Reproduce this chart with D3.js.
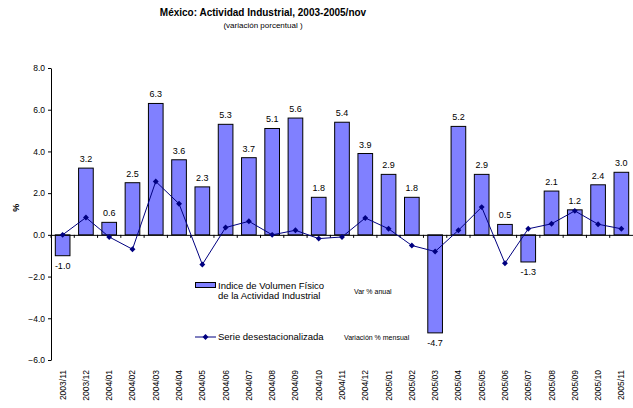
<!DOCTYPE html>
<html>
<head>
<meta charset="utf-8">
<script src="https://cdn.jsdelivr.net/npm/d3@7"></script>
<style>
  body { margin: 0; background: #fff; }
  svg text { font-family: "Liberation Sans", Arial, sans-serif; fill: #000; }
</style>
</head>
<body>
<svg id="chart" width="633" height="408"></svg>
<script>
// data
var months = ["2003/11", "2003/12", "2004/01", "2004/02", "2004/03", "2004/04", "2004/05", "2004/06",
    "2004/07", "2004/08", "2004/09", "2004/10", "2004/11", "2004/12", "2005/01", "2005/02",
    "2005/03", "2005/04", "2005/05", "2005/06", "2005/07", "2005/08", "2005/09", "2005/10", "2005/11"];
var anual = [-1.0, 3.2, 0.6, 2.5, 6.3, 3.6, 2.3, 5.3, 3.7, 5.1, 5.6, 1.8, 5.4, 3.9, 2.9, 1.8,
    -4.7, 5.2, 2.9, 0.5, -1.3, 2.1, 1.2, 2.4, 3.0];
var mensual = [0.0, 0.83, -0.1, -0.69, 2.56, 1.49, -1.42, 0.35, 0.65, 0.0, 0.22, -0.18, -0.1, 0.81,
    0.29, -0.51, -0.80, 0.22, 1.33, -1.36, 0.29, 0.53, 1.15, 0.51, 0.29];
var yTicks = [-6, -4, -2, 0, 2, 4, 6, 8];

var dims = { left: 51, right: 633, top: 68, bottom: 360 };

var svg = d3.select("#chart");

var x = d3.scaleBand()
    .domain(months)
    .range([dims.left, dims.right])
    .paddingInner(0.37)
    .paddingOuter(0.185);

var y = d3.scaleLinear()
    .domain([-6, 8])
    .range([dims.bottom, dims.top]);

// title
svg.append("text")
    .attr("x", 263).attr("y", 16)
    .attr("text-anchor", "middle")
    .style("font-size", "10px").style("font-weight", "bold")
    .text("México: Actividad Industrial, 2003-2005/nov");
svg.append("text")
    .attr("x", 263).attr("y", 28)
    .attr("text-anchor", "middle")
    .style("font-size", "8px")
    .text("(variación porcentual )");

// y axis
var yAxis = svg.append("g")
    .attr("transform", `translate(${dims.left},0)`)
    .call(d3.axisLeft(y).tickValues(yTicks).tickFormat(d3.format(".1f")).tickSize(3).tickSizeOuter(0));
yAxis.select(".domain").attr("stroke", "#000");
yAxis.selectAll("text").style("font-size", "8.5px").attr("x", -6);

svg.append("text")
    .attr("transform", `translate(19,${y(1.3)}) rotate(-90)`)
    .attr("text-anchor", "middle")
    .style("font-size", "9px").style("font-weight", "bold")
    .text("%");

// bars
svg.selectAll("rect.bar")
    .data(anual)
    .enter()
    .append("rect")
    .attr("class", "bar")
    .attr("x", (d, i) => x(months[i]))
    .attr("y", d => y(Math.max(0, d)))
    .attr("width", x.bandwidth())
    .attr("height", d => Math.abs(y(d) - y(0)))
    .attr("fill", "#8080ff")
    .attr("stroke", "#000")
    .attr("stroke-width", 1);

// bar labels
svg.selectAll("text.lbl")
    .data(anual)
    .enter()
    .append("text")
    .attr("class", "lbl")
    .attr("x", (d, i) => x(months[i]) + x.bandwidth() / 2)
    .attr("y", d => d >= 0 ? y(d) - 6 : y(d) + 13)
    .attr("text-anchor", "middle")
    .style("font-size", "9px")
    .text(d => d.toFixed(1));

// x axis at zero
var xAxis = svg.append("g")
    .attr("transform", `translate(0,${y(0)})`)
    .call(d3.axisBottom(x).tickSize(3).tickSizeOuter(0));
xAxis.select(".domain").attr("stroke", "#000");
xAxis.selectAll(".tick line")
    .attr("transform", `translate(${-x.step() / 2},0)`);
xAxis.selectAll(".tick text")
    .attr("y", 0).attr("dy", "0.35em")
    .attr("transform", `translate(0,${370 - y(0)}) rotate(-90)`)
    .attr("text-anchor", "end")
    .style("font-size", "8.5px");

// monthly line
var line = d3.line()
    .x((d, i) => x(months[i]) + x.bandwidth() / 2)
    .y(d => y(d));
svg.append("path")
    .datum(mensual)
    .attr("d", line)
    .attr("fill", "none")
    .attr("stroke", "#000080")
    .attr("stroke-width", 1);
svg.selectAll("path.mk")
    .data(mensual)
    .enter()
    .append("path")
    .attr("class", "mk")
    .attr("d", d3.symbol(d3.symbolDiamond2, 22))
    .attr("transform", (d, i) => `translate(${x(months[i]) + x.bandwidth() / 2},${y(d)})`)
    .attr("fill", "#000080");

// legend
var lg = svg.append("g");
lg.append("rect")
    .attr("x", 195.5).attr("y", 282.5).attr("width", 20).attr("height", 5)
    .attr("fill", "#8080ff").attr("stroke", "#000");
lg.append("text").attr("x", 218).attr("y", 289).style("font-size", "9.5px").text("Indice de Volumen Físico");
lg.append("text").attr("x", 218).attr("y", 299).style("font-size", "9.5px").text("de la Actividad Industrial");
lg.append("text").attr("x", 354).attr("y", 294).style("font-size", "7px").text("Var % anual");

lg.append("line")
    .attr("x1", 195).attr("x2", 216).attr("y1", 337).attr("y2", 337)
    .attr("stroke", "#000080");
lg.append("path")
    .attr("d", d3.symbol(d3.symbolDiamond2, 22))
    .attr("transform", "translate(205.5,337)")
    .attr("fill", "#000080");
lg.append("text").attr("x", 218).attr("y", 340).style("font-size", "9.5px").text("Serie desestacionalizada");
lg.append("text").attr("x", 344).attr("y", 339.5).style("font-size", "7px").text("Variación % mensual");
</script>
</body>
</html>
